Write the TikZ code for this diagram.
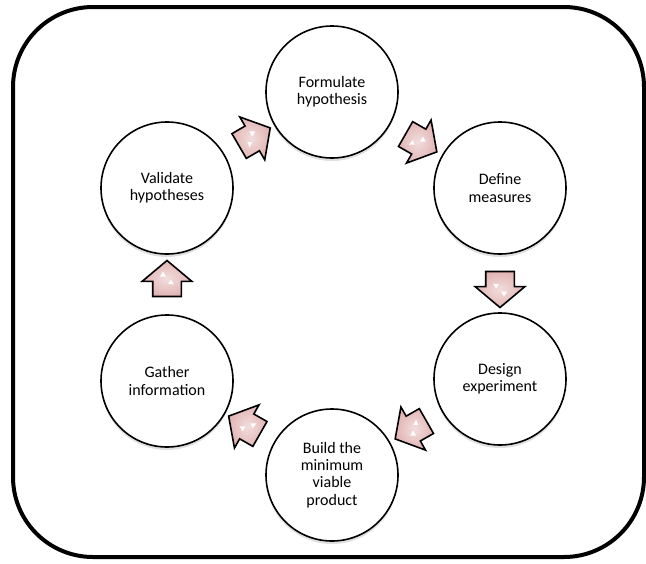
\documentclass[tikz,border=0pt]{standalone}
\usepackage{fontspec}
\setmainfont{Carlito}
\usetikzlibrary{shapes.arrows,shadows}
\definecolor{arrowpink}{RGB}{226,180,180}
\begin{document}
\begin{tikzpicture}[x=1pt, y=-1pt,
    stage/.style={circle, draw, line width=1.6pt, fill=white, minimum size=132pt, inner sep=0pt, align=center,
        font=\fontsize{16}{17.4}\selectfont, drop shadow={shadow xshift=0pt, shadow yshift=-3pt, opacity=0.25}},
    blockarrow/.style={single arrow, draw, line width=1.6pt, inner color=arrowpink!45!white, outer color=arrowpink,
        minimum height=36pt, inner xsep=0pt, inner ysep=13.5pt, single arrow head extend=10.5pt,
        single arrow tip angle=100, sloped, allow upside down,
        path picture={
            \fill[white] ([shift={(-6pt,-7pt)}]path picture bounding box.center) -- ++(5pt,3pt) -- ++(-4pt,3pt) -- cycle;
            \fill[white] ([shift={(2pt,1pt)}]path picture bounding box.center) -- ++(5pt,3pt) -- ++(-5pt,3pt) -- cycle;
        }}]
    \useasboundingbox (0,0) rectangle (646,563);
    \draw[line width=4pt, rounded corners=80pt] (13,7) rectangle (644,557);
    % the six stages
    \node[stage] (hyp) at (332,92) {Formulate\\hypothesis};
    \node[stage] (meas) at (500,188) {Define\\measures};
    \node[stage] (exp) at (500,379) {Design\\experiment};
    \node[stage] (mvp) at (332,475) {Build the\\minimum\\viable\\product};
    \node[stage] (info) at (167,381) {Gather\\information};
    \node[stage] (valid) at (167,188) {Validate\\hypotheses};
    % block arrows between them
    \foreach \a/\b in {valid/hyp, hyp/meas, meas/exp, exp/mvp, mvp/info, info/valid}
        \path (\a) -- node[blockarrow] {} (\b);
\end{tikzpicture}
\end{document}
